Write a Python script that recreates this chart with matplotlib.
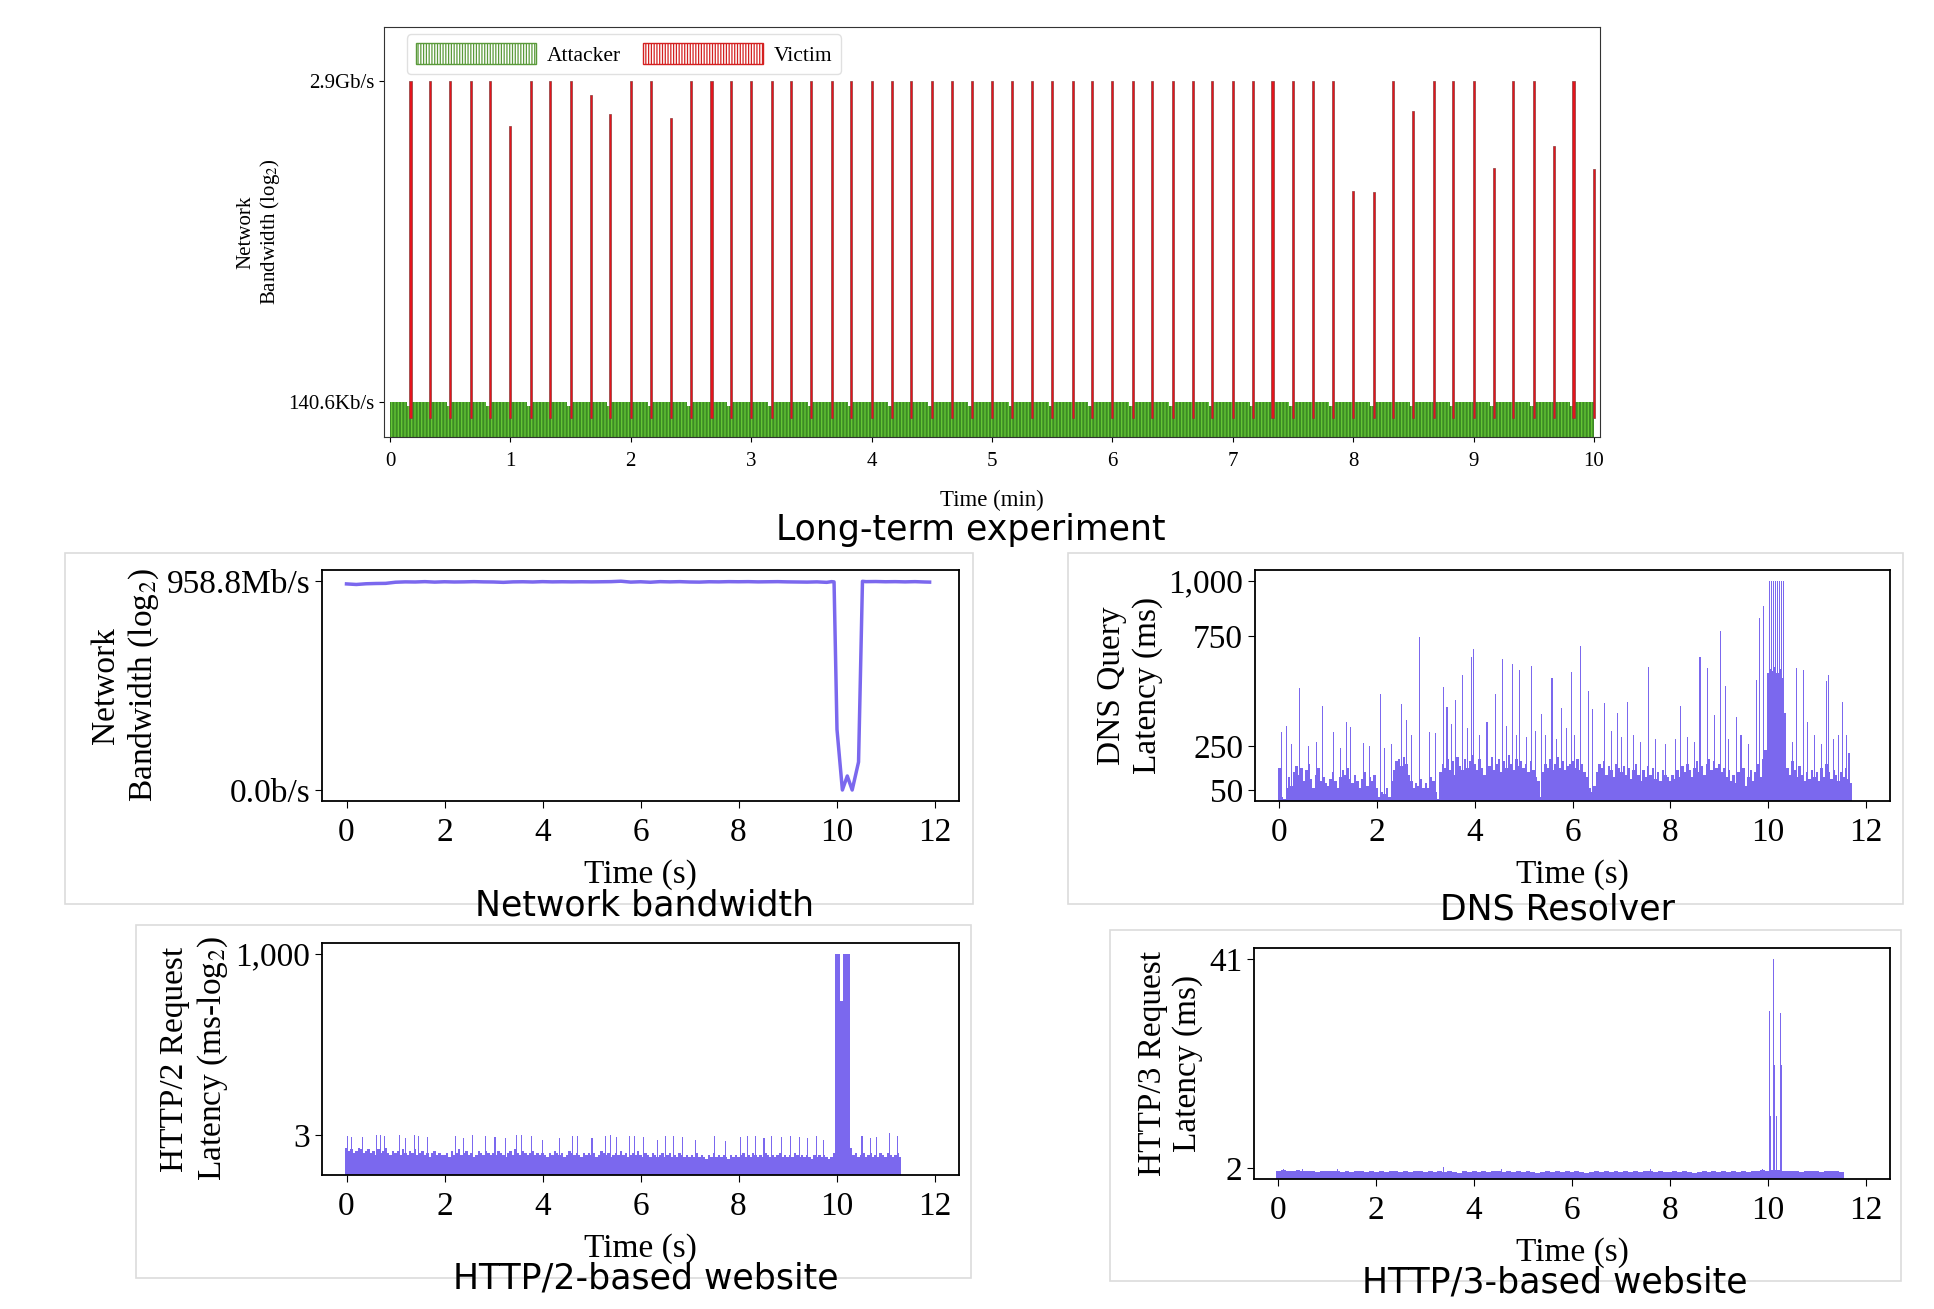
import numpy as np
import matplotlib
matplotlib.use("Agg")
import matplotlib.pyplot as plt
from matplotlib.patches import Patch, Rectangle
from matplotlib.ticker import NullLocator

# ── Long-term experiment (top) ──
SPIKE_MIN = [0.17, 0.33, 0.50, 0.67, 0.83, 1.00, 1.17, 1.33, 1.50, 1.67,
             1.83, 2.00, 2.17, 2.33, 2.50, 2.67, 2.83, 3.00, 3.17, 3.33,
             3.50, 3.67, 3.83, 4.00, 4.17, 4.33, 4.50, 4.67, 4.83, 5.00,
             5.17, 5.33, 5.50, 5.67, 5.83, 6.00, 6.17, 6.33, 6.50, 6.67,
             6.83, 7.00, 7.17, 7.33, 7.50, 7.67, 7.83, 8.00, 8.17, 8.33,
             8.50, 8.67, 8.83, 9.00, 9.17, 9.33, 9.50, 9.67, 9.83, 10.00]
VICTIM_GBPS = [2.9, 2.9, 2.9, 2.9, 2.9, 0.725, 2.9, 2.9, 2.9, 1.9,
               1.05, 2.9, 2.9, 0.93, 2.9, 2.9, 2.9, 2.9, 2.9, 2.9,
               2.9, 2.9, 2.9, 2.9, 2.9, 2.9, 2.9, 2.9, 2.9, 2.9,
               2.9, 2.9, 2.9, 2.9, 2.9, 2.9, 2.9, 2.9, 2.9, 2.9,
               2.9, 2.9, 2.9, 2.9, 2.9, 2.9, 2.9, 0.097, 0.094, 2.9,
               1.16, 2.9, 2.9, 2.9, 0.195, 2.9, 2.9, 0.394, 2.9, 0.193]
VICTIM_FLOOR = 85e3
ATTACKER_BPS = 140.6e3
ATTACKER_DIP_BPS = 124e3

# ── Network bandwidth (s, Mb/s) ──
BW_T = [0.0, 0.2, 0.4, 0.6, 0.8, 1.0, 1.2, 1.4, 1.6, 1.8,
        2.0, 2.2, 2.4, 2.6, 2.8, 3.0, 3.2, 3.4, 3.6, 3.8,
        4.0, 4.2, 4.4, 4.6, 4.8, 5.0, 5.2, 5.4, 5.6, 5.8,
        6.0, 6.2, 6.4, 6.6, 6.8, 7.0, 7.2, 7.4, 7.6, 7.8,
        8.0, 8.2, 8.4, 8.6, 8.8, 9.0, 9.2, 9.4, 9.6, 9.8,
        9.9, 9.95, 10.01, 10.12, 10.22, 10.32, 10.45, 10.53, 10.6, 10.8,
        11.0, 11.2, 11.4, 11.6, 11.8, 11.9]
BW_MBPS = [720, 680, 730, 750, 760, 850, 880, 870, 900, 860,
           890, 870, 880, 900, 880, 870, 840, 880, 890, 870,
           900, 880, 890, 880, 890, 880, 890, 900, 940, 860,
           890, 850, 900, 880, 900, 870, 860, 890, 880, 900,
           890, 900, 880, 890, 900, 880, 870, 860, 880, 840,
           900, 880, 0.0004, 0.0, 0.000003, 0.0, 0.000015, 930, 900, 910,
           890, 900, 880, 900, 870, 860]

# ── DNS resolver (ms), base every 0.05 s from 0.0 ──
DNS_BASE = [150, 20, 10, 60, 110, 70, 130, 160, 120, 150, 90, 140, 170, 100, 60, 120, 150, 90, 110, 80,
            70, 100, 130, 90, 60, 110, 140, 120, 150, 100, 80, 120, 90, 60, 100, 130, 70, 110, 90, 120,
            60, 20, 40, 30, 60, 20, 90, 140, 180, 190, 160, 200, 170, 120, 90, 60, 80, 70, 100, 60,
            80, 60, 110, 90, 40, 10, 130, 170, 150, 190, 140, 180, 120, 200, 160, 140, 190, 150, 180, 210,
            170, 140, 190, 150, 120, 180, 160, 200, 140, 170, 190, 130, 180, 150, 210, 170, 140, 190, 160, 180,
            150, 170, 130, 180, 140, 110, 90, 20, 130, 170, 150, 190, 140, 170, 200, 150, 180, 140, 160, 170,
            180, 150, 190, 140, 170, 130, 110, 60, 40, 70, 130, 170, 150, 180, 120, 160, 140, 110, 170, 150,
            130, 160, 120, 150, 100, 140, 170, 120, 90, 140, 110, 160, 120, 150, 100, 130, 90, 140, 120, 110,
            90, 120, 100, 140, 110, 160, 130, 170, 140, 110, 150, 180, 130, 160, 120, 170, 190, 140, 180, 150,
            170, 130, 150, 110, 140, 90, 120, 80, 130, 100, 150, 70, 110, 140, 90, 130, 170, 110, 190, 230,
            580, 600, 590, 610, 580, 600, 560, 400, 150, 120, 180, 140, 110, 160, 120, 90, 130, 100, 140, 110,
            130, 90, 150, 110, 170, 130, 100, 140, 120, 90, 130, 110, 150, 100, 80]
DNS_PEAK_T = [0.05, 0.15, 0.25, 0.41, 0.60, 0.75, 0.88, 1.10, 1.25, 1.37, 1.45, 1.72, 1.85,
              2.06, 2.15, 2.30, 2.49, 2.61, 2.70, 2.87, 3.08, 3.20, 3.36, 3.43, 3.52, 3.61, 3.74,
              3.85, 3.93, 3.97, 4.10, 4.25, 4.43, 4.56, 4.65, 4.78, 4.85, 4.92, 5.05, 5.16, 5.25,
              5.37, 5.45, 5.58, 5.68, 5.77, 5.88, 5.98, 6.05, 6.17, 6.32, 6.40, 6.66, 6.80, 6.92,
              7.00, 7.12, 7.25, 7.40, 7.56, 7.70, 7.90, 8.10, 8.22, 8.35, 8.50, 8.61, 8.77, 8.90,
              9.03, 9.14, 9.20, 9.36, 9.45, 9.60, 9.77, 9.82, 9.91,
              10.04, 10.08, 10.12, 10.16, 10.20, 10.24, 10.28, 10.32,
              10.37, 10.50, 10.59, 10.72, 10.81, 10.95, 11.10, 11.20, 11.25, 11.35, 11.45, 11.53,
              11.60, 11.66]
DNS_PEAK_MS = [315, 341, 260, 512, 250, 270, 432, 312, 240, 361, 338, 265, 250,
               485, 240, 260, 441, 368, 300, 747, 315, 310, 517, 429, 350, 459, 573,
               330, 656, 689, 300, 360, 486, 645, 340, 621, 300, 595, 290, 614, 320,
               395, 300, 558, 280, 421, 330, 585, 300, 706, 500, 420, 444, 320, 398,
               290, 448, 300, 270, 611, 280, 260, 280, 432, 290, 270, 653, 603, 390,
               773, 523, 280, 383, 300, 260, 550, 830, 886,
               1000, 1000, 1000, 1000, 1000, 1000, 1000, 1000,
               361, 270, 606, 595, 361, 300, 260, 546, 573, 280, 300, 452,
               300, 217]

# ── HTTP/2 website (ms), base every 0.05 s from 0.0 ──
H2_BASE = [2.0, 1.8, 1.9, 1.7, 1.8, 2.0, 1.9, 1.7, 1.8, 1.9, 1.7, 1.8, 1.6, 1.9, 1.7, 1.8, 2.0, 1.7, 1.6, 1.8,
           1.7, 1.8, 1.6, 1.9, 1.7, 1.6, 1.8, 1.7, 1.9, 1.6, 1.7, 1.8, 1.6, 1.7, 1.5, 1.7, 1.8, 1.6, 1.7, 1.6,
           1.6, 1.7, 1.5, 1.8, 1.6, 1.7, 1.9, 1.6, 1.7, 1.8, 1.6, 1.7, 1.5, 1.6, 1.8, 1.7, 1.6, 1.8, 1.7, 1.6,
           1.7, 1.6, 1.8, 1.7, 1.6, 1.5, 1.7, 1.8, 1.6, 1.9, 1.7, 1.6, 1.8, 1.7, 1.6, 1.7, 1.8, 1.6, 1.7, 1.6,
           1.7, 1.6, 1.5, 1.7, 1.6, 1.8, 1.7, 1.6, 1.7, 1.5, 1.6, 1.8, 1.7, 1.6, 1.7, 1.6, 1.5, 1.7, 1.6, 1.7,
           1.6, 1.7, 1.5, 1.6, 1.8, 1.7, 1.6, 1.7, 1.5, 1.6, 1.7, 1.6, 1.8, 1.6, 1.7, 1.5, 1.6, 1.7, 1.6, 1.8,
           1.6, 1.5, 1.7, 1.6, 1.5, 1.7, 1.6, 1.5, 1.6, 1.7, 1.5, 1.6, 1.7, 1.5, 1.6, 1.5, 1.7, 1.6, 1.5, 1.6,
           1.5, 1.6, 1.5, 1.7, 1.5, 1.6, 1.5, 1.4, 1.6, 1.5, 1.7, 1.5, 1.6, 1.5, 1.6, 1.5, 1.4, 1.6, 1.5, 1.6,
           1.5, 1.6, 1.7, 1.5, 1.6, 1.5, 1.7, 1.6, 1.5, 1.6, 1.5, 1.7, 1.6, 1.5, 1.6, 1.5, 1.6, 1.7, 1.5, 1.6,
           1.5, 1.6, 1.5, 1.7, 1.6, 1.5, 1.6, 1.5, 1.6, 1.5, 1.4, 1.6, 1.5, 1.6, 1.5, 1.6, 1.5, 1.4, 1.5, 1.7,
           1000, 1000, 220, 1000, 1000, 1000, 2.0, 1.6, 1.7, 1.5, 1.6, 1.7, 1.5, 1.6, 1.7, 1.5, 1.6, 1.5, 1.7, 1.6,
           1.5, 1.7, 1.6, 1.5, 1.6, 1.7, 1.5]
H2_PEAK_T = [0.02, 0.11, 0.33, 0.61, 0.69, 0.78, 1.08, 1.20, 1.39, 1.47, 1.65, 2.23, 2.39, 2.58,
             2.84, 3.03, 3.25, 3.47, 3.58, 3.78, 4.00, 4.34, 4.62, 4.71, 5.01, 5.29, 5.38, 5.51,
             5.77, 5.88, 6.07, 6.35, 6.51, 6.68, 6.85, 7.12, 7.51, 7.74, 8.04, 8.18, 8.35, 8.52,
             8.68, 8.88, 9.07, 9.24, 9.41, 9.60, 9.74, 10.52, 10.69, 10.82, 11.08, 11.24]
H2_PEAK_MS = [2.9, 2.8, 2.8, 3.0, 3.0, 2.9, 3.0, 2.7, 3.0, 2.9, 2.8, 2.9, 2.7, 3.0,
              2.9, 2.8, 2.7, 3.0, 3.0, 2.9, 2.6, 2.7, 2.9, 2.9, 2.7, 2.9, 3.0, 2.8,
              2.9, 2.9, 2.8, 2.6, 2.9, 2.9, 2.8, 2.6, 2.9, 2.5, 2.8, 2.9, 2.9, 2.7,
              2.9, 2.8, 2.9, 2.8, 2.7, 2.9, 2.6, 2.9, 2.7, 2.8, 3.2, 2.9]

# ── HTTP/3 website (ms), base every 0.1 s from 0.0 ──
H3_BASE = [1.5, 1.6, 1.4, 1.5, 1.6, 1.5, 1.4, 1.5, 1.3, 1.5, 1.4, 1.5, 1.4, 1.3, 1.4, 1.3, 1.4, 1.5, 1.3, 1.4,
           1.3, 1.4, 1.3, 1.4, 1.5, 1.3, 1.4, 1.3, 1.5, 1.4, 1.3, 1.4, 1.3, 1.4, 1.3, 1.4, 1.3, 1.2, 1.4, 1.3,
           1.4, 1.3, 1.4, 1.3, 1.4, 1.5, 1.3, 1.4, 1.3, 1.4, 1.3, 1.4, 1.3, 1.2, 1.3, 1.4, 1.3, 1.4, 1.3, 1.4,
           1.3, 1.4, 1.3, 1.2, 1.3, 1.4, 1.3, 1.4, 1.3, 1.5, 1.3, 1.4, 1.3, 1.4, 1.3, 1.4, 1.5, 1.3, 1.4, 1.3,
           1.3, 1.4, 1.3, 1.4, 1.3, 1.2, 1.3, 1.4, 1.3, 1.4, 1.3, 1.4, 1.3, 1.4, 1.3, 1.4, 1.3, 1.4, 1.5, 1.6,
           1.5, 1.7, 1.6, 1.5, 1.4, 1.5, 1.4, 1.3, 1.4, 1.5, 1.4, 1.3, 1.4, 1.5, 1.4, 1.3]
H3_PEAK_T = [0.10, 0.50, 1.20, 3.37, 4.55, 7.60, 9.90, 10.04, 10.06, 10.11, 10.13, 10.18, 10.27, 10.29]
H3_PEAK_MS = [1.9, 1.9, 1.8, 2.2, 1.9, 1.9, 1.9, 31.3, 11.8, 41.0, 21.3, 11.8, 31.0, 21.3]

TIME_TICKS = [0, 2, 4, 6, 8, 10, 12]
PURPLE = "#7b68ee"
W, H = 1934, 1309

plt.rcParams["font.family"] = "serif"
plt.rcParams["font.serif"] = ["Liberation Serif", "DejaVu Serif"]
plt.rcParams["mathtext.fontset"] = "stix"
plt.rcParams["hatch.linewidth"] = 0.9

fig = plt.figure(figsize=(W / 100, H / 100), dpi=100)


def px_axes(left, top, right, bottom):
    return fig.add_axes([left / W, 1 - bottom / H, (right - left) / W, (bottom - top) / H])


def frame(left, top, right, bottom):
    fig.add_artist(Rectangle((left / W, 1 - bottom / H), (right - left) / W, (bottom - top) / H,
                             transform=fig.transFigure, fill=False, ec="#dcdcdc", lw=1.2, zorder=0))


def title(x, y, s):
    fig.text(x / W, 1 - y / H, s, ha="center", va="baseline", fontsize=25, family="DejaVu Sans")


# ── Top panel ──
ax = px_axes(384, 27, 1600, 437)
ax.set_yscale("log", base=2)
lefts, widths, heights = [], [], []
prev = 0.0
for k, t in enumerate(SPIKE_MIN):
    if k % 2 == 0:
        lefts += [prev, t - 0.03]
        widths += [t - 0.03 - prev, 0.03]
        heights += [ATTACKER_BPS, ATTACKER_DIP_BPS]
    else:
        lefts.append(prev)
        widths.append(t - prev)
        heights.append(ATTACKER_BPS)
    prev = t
floor = 1e3
ax.bar(lefts, np.array(heights) - floor, width=widths, bottom=floor, align="edge",
       color="#3d8a25", edgecolor="#66c936", hatch="|||||", linewidth=0, zorder=2)
victim = np.array(VICTIM_GBPS) * 1e9
ax.bar(SPIKE_MIN, victim - VICTIM_FLOOR, width=0.017, bottom=VICTIM_FLOOR,
       color="#e4141c", edgecolor="#8a3a3a", linewidth=0.5, zorder=3)
ax.set_xlim(-0.05, 10.05)
ax.set_ylim(47e3, 15.7e9)
ax.set_yticks([ATTACKER_BPS, 2.9e9])
ax.set_yticklabels(["140.6Kb/s", "2.9Gb/s"])
ax.yaxis.set_minor_locator(NullLocator())
ax.set_xticks(range(0, 11))
ax.tick_params(labelsize=15)
ax.tick_params(axis="x", pad=7)
ax.set_xlabel("Time (min)", fontsize=16.5, labelpad=14)
ax.set_ylabel("Network\nBandwidth (log$_2$)", fontsize=15, labelpad=4)
for s in ax.spines.values():
    s.set_color("#333333")
handles = [Patch(facecolor="white", edgecolor="#5a9a3a", hatch="||||||", label="Attacker"),
           Patch(facecolor="white", edgecolor="#d42020", hatch="||||||", label="Victim")]
ax.legend(handles=handles, loc="upper left", bbox_to_anchor=(0.019, 0.982), borderaxespad=0,
          ncol=2, fontsize=15.5, handlelength=5.6, handleheight=1.1, columnspacing=1.0,
          handletextpad=0.5, framealpha=0.9, edgecolor="#dddddd", fancybox=True)
title(971, 540, "Long-term experiment")

# ── Network bandwidth ──
frame(65, 553, 973, 904)
ax1 = px_axes(322, 570, 959, 801)
bw = np.array(BW_MBPS) * 1e6
ax1.set_yscale("function", functions=(lambda v: np.log2(np.maximum(v, -0.999) + 1),
                                      lambda v: 2.0 ** v - 1))
ax1.plot(BW_T, bw, color=PURPLE, lw=2.5)
ax1.set_ylim(-0.663, 2.85e9)
ax1.set_yticks([0, 958.8e6])
ax1.set_yticklabels(["0.0b/s", "958.8Mb/s"])
ax1.yaxis.set_minor_locator(NullLocator())
ax1.set_ylabel("Network\nBandwidth (log$_2$)", fontsize=24)
title(645, 916, "Network bandwidth")

# ── DNS resolver ──
frame(1068, 553, 1903, 904)
ax2 = px_axes(1255, 570, 1890, 801)
dns_t = np.arange(len(DNS_BASE)) * 0.05
ax2.bar(dns_t, DNS_BASE, width=0.05, color=PURPLE, linewidth=0)
ax2.bar(DNS_PEAK_T, DNS_PEAK_MS, width=0.022, color=PURPLE, linewidth=0)
ax2.set_ylim(0, 1050)
ax2.set_yticks([50, 250, 750, 1000])
ax2.set_yticklabels(["50", "250", "750", "1,000"])
ax2.set_ylabel("DNS Query\nLatency (ms)", fontsize=24)
title(1557, 920, "DNS Resolver")

# ── HTTP/2 ──
frame(136, 925, 971, 1278)
ax3 = px_axes(322, 943, 959, 1175)
h2_floor = 0.5
h2_t = np.arange(len(H2_BASE)) * 0.05
ax3.set_yscale("log", base=2)
ax3.bar(h2_t, np.array(H2_BASE) - h2_floor, width=0.05, bottom=h2_floor, color=PURPLE, linewidth=0)
ax3.bar(H2_PEAK_T, np.array(H2_PEAK_MS) - h2_floor, width=0.022, bottom=h2_floor,
        color=PURPLE, linewidth=0)
ax3.set_ylim(0.833, 1424)
ax3.set_yticks([3, 1000])
ax3.set_yticklabels(["3", "1,000"])
ax3.yaxis.set_minor_locator(NullLocator())
ax3.set_ylabel("HTTP/2 Request\nLatency (ms-log$_2$)", fontsize=24)
title(646, 1289, "HTTP/2-based website")

# ── HTTP/3 ──
frame(1110, 930, 1901, 1281)
ax4 = px_axes(1254, 948, 1890, 1179)
h3_t = np.arange(len(H3_BASE)) * 0.1
ax4.bar(h3_t, H3_BASE, width=0.1, color=PURPLE, linewidth=0)
ax4.bar(H3_PEAK_T, H3_PEAK_MS, width=0.022, color=PURPLE, linewidth=0)
ax4.set_ylim(0, 43.05)
ax4.set_yticks([2, 41])
ax4.set_ylabel("HTTP/3 Request\nLatency (ms)", fontsize=24)
title(1555, 1292, "HTTP/3-based website")

for a in (ax1, ax2, ax3, ax4):
    a.set_xlim(-0.5, 12.5)
    a.set_xticks(TIME_TICKS)
    a.tick_params(labelsize=24, length=5)
    a.tick_params(axis="x", pad=7)
    a.set_xlabel("Time (s)", fontsize=24, labelpad=8)
    for s in a.spines.values():
        s.set_linewidth(1.3)

fig.savefig("out.png", dpi=100)
